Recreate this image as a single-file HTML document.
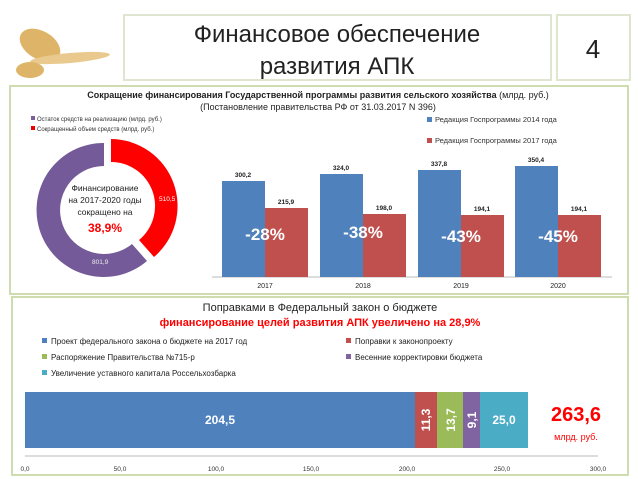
<!DOCTYPE html><html><head><meta charset="utf-8"><style>
body{margin:0;width:638px;height:479px;background:#fff;position:relative;overflow:hidden;font-family:"Liberation Sans","DejaVu Sans",sans-serif}
.a{position:absolute}
</style></head><body>
<svg class="a" style="left:0;top:0" width="638" height="479">
<g fill="#d9a94e" opacity="0.85"><ellipse cx="40" cy="45" rx="22" ry="14" transform="rotate(30 40 45)"/><ellipse cx="70" cy="58" rx="40" ry="5" transform="rotate(-5 70 58)" fill="#e6c07a"/><ellipse cx="30" cy="70" rx="14" ry="8"/></g>
<rect x="124" y="15" width="427" height="65" fill="#fff" stroke="#dfe6cf" stroke-width="2"/>
<rect x="557" y="15" width="73" height="65" fill="#fff" stroke="#dfe6cf" stroke-width="2"/>
<rect x="10" y="86" width="618" height="208" fill="#fff" stroke="#cfdcb0" stroke-width="2"/>
<rect x="12" y="297" width="616" height="178" fill="#fff" stroke="#cfdcb0" stroke-width="2"/>
<text x="337" y="42" font-size="24" text-anchor="middle" fill="#222">Финансовое обеспечение</text>
<text x="337" y="74" font-size="24" text-anchor="middle" fill="#222">развития АПК</text>
<text x="593" y="58" font-size="26" text-anchor="middle" fill="#222">4</text>
<text x="318" y="98" font-size="9" font-weight="bold" text-anchor="middle" fill="#222">Сокращение финансирования Государственной программы развития сельского хозяйства <tspan font-weight="normal">(млрд. руб.)</tspan></text>
<text x="318" y="110" font-size="9" text-anchor="middle" fill="#222">(Постановление правительства РФ от 31.03.2017 N 396)</text>
<rect x="31" y="116" width="4" height="4" fill="#7a5f9a"/><text x="37" y="121" font-size="6" fill="#333">Остаток средств на реализацию (млрд. руб.)</text>
<rect x="31" y="126" width="4" height="4" fill="#e00"/><text x="37" y="131" font-size="6" fill="#333">Сокращенный объем средств (млрд. руб.)</text>
<path d="M111,139 A67,67 0 0 1 154,257 L139,240 A44,44 0 0 0 111,162 Z" fill="#f00"/>
<path d="M104,143 A67,67 0 1 0 147,261 L132,244 A44,44 0 1 1 104,166 Z" fill="#745a98"/>
<text x="105" y="191" font-size="8.5" text-anchor="middle" fill="#222">Финансирование</text>
<text x="105" y="203" font-size="8.5" text-anchor="middle" fill="#222">на 2017-2020 годы</text>
<text x="105" y="215" font-size="8.5" text-anchor="middle" fill="#222">сокращено на</text>
<text x="105" y="232" font-size="12" font-weight="bold" text-anchor="middle" fill="#f00">38,9%</text>
<text x="159" y="201" font-size="6.5" fill="#fff">510,5</text>
<text x="92" y="264" font-size="6.5" fill="#eee">801,9</text>
<rect x="427" y="117" width="5" height="5" fill="#4f81bd"/><text x="435" y="122" font-size="7.5" fill="#333">Редакция Госпрограммы  2014 года</text>
<rect x="427" y="138" width="5" height="5" fill="#c0504d"/><text x="435" y="143" font-size="7.5" fill="#333">Редакция Госпрограммы  2017 года</text>
<line x1="212" y1="277" x2="612" y2="277" stroke="#bbb"/>
<g fill="#4f81bd"><rect x="222" y="181" width="43" height="96"/><rect x="320" y="174" width="43" height="103"/><rect x="418" y="170" width="43" height="107"/><rect x="515" y="166" width="43" height="111"/></g>
<g fill="#c0504d"><rect x="265" y="208" width="43" height="69"/><rect x="363" y="214" width="43" height="63"/><rect x="461" y="215" width="43" height="62"/><rect x="558" y="215" width="43" height="62"/></g>
<g font-size="6.5" font-weight="bold" text-anchor="middle" fill="#222"><text x="243" y="177">300,2</text><text x="341" y="170">324,0</text><text x="439" y="166">337,8</text><text x="536" y="162">350,4</text>
<text x="286" y="204">215,9</text><text x="384" y="210">198,0</text><text x="482" y="211">194,1</text><text x="579" y="211">194,1</text></g>
<g font-size="17" font-weight="bold" text-anchor="middle" fill="#fff"><text x="265" y="240">-28%</text><text x="363" y="238">-38%</text><text x="461" y="242">-43%</text><text x="558" y="242">-45%</text></g>
<g font-size="7" text-anchor="middle" fill="#222"><text x="265" y="288">2017</text><text x="363" y="288">2018</text><text x="461" y="288">2019</text><text x="558" y="288">2020</text></g>
<text x="320" y="311" font-size="11" text-anchor="middle" fill="#222">Поправками в  Федеральный закон о бюджете</text>
<text x="320" y="326" font-size="11" font-weight="bold" text-anchor="middle" fill="#f00">финансирование  целей развития АПК увеличено на 28,9%</text>
<g font-size="8" fill="#222">
<rect x="42" y="338" width="5" height="5" fill="#4f81bd"/><text x="51" y="344">Проект федерального закона о бюджете на 2017 год</text>
<rect x="42" y="354" width="5" height="5" fill="#9bbb59"/><text x="51" y="360">Распоряжение Правительства №715-р</text>
<rect x="42" y="370" width="5" height="5" fill="#4bacc6"/><text x="51" y="376">Увеличение уставного капитала Россельхозбарка</text>
<rect x="346" y="338" width="5" height="5" fill="#c0504d"/><text x="355" y="344">Поправки к законопроекту</text>
<rect x="346" y="354" width="5" height="5" fill="#8064a2"/><text x="355" y="360">Весенние корректировки бюджета</text>
</g>
<rect x="25" y="392" width="390" height="56" fill="#4f81bd"/>
<rect x="415" y="392" width="22" height="56" fill="#c0504d"/>
<rect x="437" y="392" width="26" height="56" fill="#9bbb59"/>
<rect x="463" y="392" width="17" height="56" fill="#8064a2"/>
<rect x="480" y="392" width="48" height="56" fill="#4bacc6"/>
<g font-size="12" font-weight="bold" fill="#fff" text-anchor="middle"><text x="220" y="424">204,5</text><text x="504" y="424">25,0</text>
<text transform="translate(430,420) rotate(-90)">11,3</text><text transform="translate(455,420) rotate(-90)">13,7</text><text transform="translate(476,420) rotate(-90)">9,1</text></g>
<text x="576" y="421" font-size="20" font-weight="bold" text-anchor="middle" fill="#f00">263,6</text>
<text x="576" y="440" font-size="9" text-anchor="middle" fill="#f00">млрд. руб.</text>
<line x1="25" y1="456" x2="598" y2="456" stroke="#bbb"/>
<g font-size="6.5" text-anchor="middle" fill="#333"><text x="25" y="471">0,0</text><text x="120" y="471">50,0</text><text x="216" y="471">100,0</text><text x="311" y="471">150,0</text><text x="407" y="471">200,0</text><text x="502" y="471">250,0</text><text x="598" y="471">300,0</text></g>
</svg>
</body></html>
